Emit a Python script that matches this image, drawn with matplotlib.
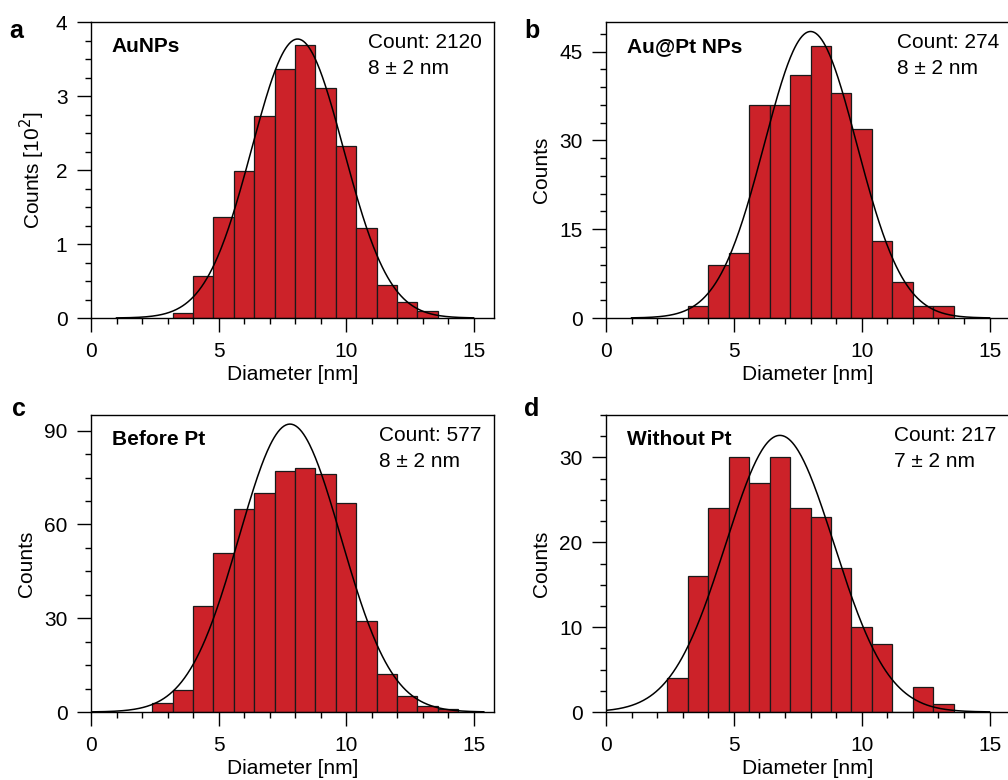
import numpy as np
import matplotlib
matplotlib.use("Agg")
import matplotlib.pyplot as plt
from matplotlib.ticker import MultipleLocator

plt.rcParams['font.family'] = ['Liberation Sans', 'DejaVu Sans']
plt.rcParams['font.size'] = 15

# bin width 0.8 nm, left edges given per panel
bin_w = 0.8

edges_a = [3.2, 4.0, 4.8, 5.6, 6.4, 7.2, 8.0, 8.8, 9.6, 10.4, 11.2, 12.0, 12.8]
counts_a = [0.07, 0.57, 1.36, 1.99, 2.73, 3.36, 3.69, 3.11, 2.33, 1.22, 0.44, 0.21, 0.09]  # x10^2

edges_b = [3.2, 4.0, 4.8, 5.6, 6.4, 7.2, 8.0, 8.8, 9.6, 10.4, 11.2, 12.0, 12.8]
counts_b = [2, 9, 11, 36, 36, 41, 46, 38, 32, 13, 6, 2, 2]

edges_c = [2.4, 3.2, 4.0, 4.8, 5.6, 6.4, 7.2, 8.0, 8.8, 9.6, 10.4, 11.2, 12.0, 12.8, 13.6]
counts_c = [3, 7, 34, 51, 65, 70, 77, 78, 76, 67, 29, 12, 5, 2, 1]

edges_d = [2.4, 3.2, 4.0, 4.8, 5.6, 6.4, 7.2, 8.0, 8.8, 9.6, 10.4, 11.2, 12.0, 12.8]
counts_d = [4, 16, 24, 30, 27, 30, 24, 23, 17, 10, 8, 0, 3, 1]

# gaussian fit parameters: (mean, sigma, peak height, x start, x end)
fit_a = (8.1, 1.80, 3.77, 1.0, 15.0)
fit_b = (8.0, 1.81, 48.4, 1.0, 15.0)
fit_c = (7.8, 2.00, 92.1, 0.0, 15.4)
fit_d = (6.8, 2.12, 32.6, 0.0, 15.0)

names = ["AuNPs", "Au@Pt NPs", "Before Pt", "Without Pt"]
count_txt = ["Count: 2120", "Count: 274", "Count: 577", "Count: 217"]
size_txt = ["8 \u00b1 2 nm", "8 \u00b1 2 nm", "8 \u00b1 2 nm", "7 \u00b1 2 nm"]
letters = ["a", "b", "c", "d"]
ylabels = ["Counts [10$^2$]", "Counts", "Counts", "Counts"]
ymax = [4, 50, 95, 35]
ymajor = [1, 15, 30, 10]
yminor = [0.25, 3, 7.5, 2.5]

bar_color = "#CC2229"

fig = plt.figure(figsize=(10.08, 7.8), dpi=100)
W, H = 1008.0, 780.0
# axes boxes in pixels: left, top, right, bottom
boxes = [(91, 22, 494, 318), (606, 22, 1010, 318), (91, 415, 494, 712), (606, 415, 1010, 712)]
letter_pos = [(9, 38), (524, 38), (12, 416), (524, 416)]
info_x = [0.687, 0.72, 0.715, 0.713]

data = [(edges_a, counts_a, fit_a), (edges_b, counts_b, fit_b),
        (edges_c, counts_c, fit_c), (edges_d, counts_d, fit_d)]

for i, (edges, counts, fit) in enumerate(data):
    l, t, r, b = boxes[i]
    ax = fig.add_axes([l / W, 1 - b / H, (r - l) / W, (b - t) / H])
    ax.bar(edges, counts, width=bin_w, align='edge', color=bar_color,
           edgecolor='#1a1a1a', linewidth=0.9, zorder=2)
    mu, sig, amp, x0, x1 = fit
    xx = np.linspace(x0, x1, 400)
    ax.plot(xx, amp * np.exp(-0.5 * ((xx - mu) / sig) ** 2), color='black', lw=1.1, zorder=3)

    ax.set_xlim(0, 15.8)
    ax.set_ylim(0, ymax[i])
    ax.xaxis.set_major_locator(MultipleLocator(5))
    ax.xaxis.set_minor_locator(MultipleLocator(1))
    ax.yaxis.set_major_locator(MultipleLocator(ymajor[i]))
    ax.yaxis.set_minor_locator(MultipleLocator(yminor[i]))
    ax.tick_params(which='major', direction='out', length=10, width=1, labelsize=15, pad=7)
    ax.tick_params(which='minor', direction='out', length=4.5, width=1)
    for s in ax.spines.values():
        s.set_linewidth(1)
    ax.set_xlabel("Diameter [nm]", fontsize=15, labelpad=3)
    ax.set_ylabel(ylabels[i], fontsize=15, labelpad=6)

    yt = 0.916
    ax.text(0.052, yt, names[i], transform=ax.transAxes, fontsize=15,
            fontweight='bold', ha='left', va='center')
    ax.text(info_x[i], 0.93, count_txt[i], transform=ax.transAxes, fontsize=15,
            ha='left', va='center')
    ax.text(info_x[i], 0.843, size_txt[i], transform=ax.transAxes, fontsize=15,
            ha='left', va='center')

    lx, ly = letter_pos[i]
    fig.text(lx / W, 1 - ly / H, letters[i], fontsize=18, fontweight='bold',
             ha='left', va='baseline')

fig.savefig("out.png", dpi=100)
